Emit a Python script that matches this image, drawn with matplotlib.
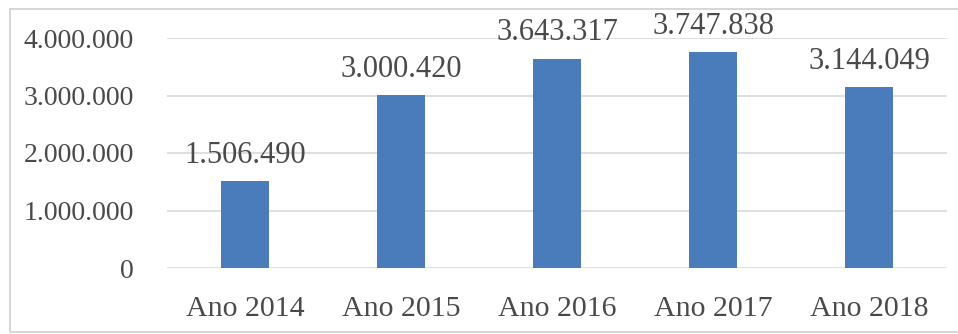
import matplotlib
matplotlib.use("Agg")
import matplotlib.pyplot as plt
from matplotlib.patches import Rectangle

categories = ["Ano 2014", "Ano 2015", "Ano 2016", "Ano 2017", "Ano 2018"]
values = [1506490, 3000420, 3643317, 3747838, 3144049]
value_labels = ["1.506.490", "3.000.420", "3.643.317", "3.747.838", "3.144.049"]
yticks = [0, 1000000, 2000000, 3000000, 4000000]
ytick_labels = ["0", "1.000.000", "2.000.000", "3.000.000", "4.000.000"]

plt.rcParams['font.family'] = ['Liberation Serif', 'DejaVu Serif']
text_color = "#4a4a4a"
bar_color = "#4a7bbb"
grid_color = "#d9d9d9"

W, H = 958, 334
fig = plt.figure(figsize=(W / 100, H / 100), dpi=100)
fig.patch.set_facecolor("white")

# chart frame
fig.patches.append(Rectangle((10 / W, 2 / H), 960 / W, (325 - 2) / H,
                             transform=fig.transFigure, fill=False,
                             edgecolor="#d0d0d0", linewidth=1.2))

ax = fig.add_axes([167 / W, 66 / H, 780 / W, 230 / H])
x = list(range(len(categories)))
ax.bar(x, values, width=0.31, color=bar_color, zorder=3)
ax.set_xlim(-0.5, len(categories) - 0.5)
ax.set_ylim(0, 4000000)
ax.set_yticks(yticks)
ax.set_yticklabels(ytick_labels)
ax.set_xticks(x)
ax.set_xticklabels(categories)
ax.tick_params(axis="y", length=0, pad=24, labelsize=20, labelcolor=text_color)
ax.tick_params(axis="x", length=0, pad=20, labelsize=21.5, labelcolor=text_color)
for s in ax.spines.values():
    s.set_visible(False)
ax.yaxis.grid(True, color=grid_color, linewidth=1.2, zorder=0)
ax.set_axisbelow(True)
ax.set_clip_on(False)

for xi, v, lab in zip(x, values, value_labels):
    ax.annotate(lab, (xi, v), xytext=(0, 8), textcoords="offset points",
                ha="center", va="bottom", fontsize=22, color=text_color,
                annotation_clip=False)

fig.savefig("out.png", dpi=100)
